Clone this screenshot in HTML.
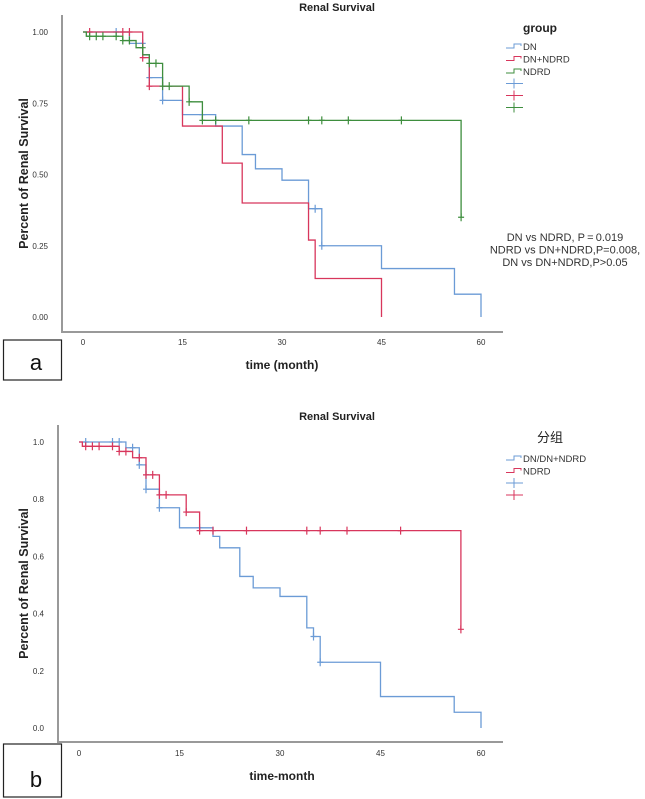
<!DOCTYPE html>
<html><head><meta charset="utf-8">
<style>
body{margin:0;background:#fff;width:645px;height:799px;overflow:hidden;font-family:"Liberation Sans","Noto Sans CJK SC",sans-serif}
svg{position:absolute;left:0;top:0}
</style></head>
<body>
<svg id="s" width="645" height="799"></svg>
<script>
// ---- data: panel a ----
const ticksX = [0, 15, 30, 45, 60];
const ticksYa = [0, 0.25, 0.5, 0.75, 1.0];
const ticksYaLabels = ["0.00", "0.25", "0.50", "0.75", "1.00"];
const dnTimes = [0, 7, 9, 10, 12, 15, 20, 24, 26, 30, 34, 36, 45, 56, 60];
const dnSurv  = [1.0, 0.96, 0.92, 0.84, 0.76, 0.71, 0.67, 0.57, 0.52, 0.48, 0.38, 0.25, 0.17, 0.08, 0];
const dnCensT = [5, 9, 10, 12, 18, 35, 36];
const dnCensS = [1.0, 0.96, 0.84, 0.76, 0.71, 0.38, 0.25];
const mixTimes = [0, 9, 10, 15, 21, 24, 34, 35, 45];
const mixSurv  = [1.0, 0.91, 0.81, 0.67, 0.54, 0.40, 0.27, 0.135, 0];
const mixCensT = [1, 6, 7, 9, 10];
const mixCensS = [1.0, 1.0, 1.0, 0.91, 0.81];
const ndTimes = [0, 0.5, 6, 8, 9, 10, 12, 16, 18, 57];
const ndSurv  = [1.0, 0.985, 0.97, 0.945, 0.92, 0.89, 0.81, 0.755, 0.69, 0.35];
const ndCensT = [1, 2, 3, 5, 6, 7, 9, 10, 11, 12, 13, 16, 18, 20, 25, 34, 36, 40, 48, 57];
const ndCensS = [0.985,0.985,0.985,0.985,0.97,0.97,0.945,0.89,0.89,0.81,0.81,0.755,0.69,0.69,0.69,0.69,0.69,0.69,0.69,0.35];
// ---- data: panel b ----
const ticksYb = [0, 0.2, 0.4, 0.6, 0.8, 1.0];
const ticksYbLabels = ["0.0", "0.2", "0.4", "0.6", "0.8", "1.0"];
const bBlueTimes = [0, 7, 9, 10, 12, 15, 20, 21, 24, 26, 30, 34, 35, 36, 45, 56, 60];
const bBlueSurv  = [1.0, 0.98, 0.92, 0.835, 0.77, 0.70, 0.67, 0.63, 0.53, 0.49, 0.46, 0.35, 0.32, 0.23, 0.11, 0.055, 0];
const bBlueCensT = [1, 5, 6, 8, 9, 10, 12, 18, 35, 36];
const bBlueCensS = [1.0, 1.0, 1.0, 0.98, 0.92, 0.835, 0.77, 0.70, 0.32, 0.23];
const bRedTimes = [0, 0.5, 6, 8, 10, 12, 16, 18, 57];
const bRedSurv  = [1.0, 0.985, 0.967, 0.945, 0.885, 0.815, 0.755, 0.69, 0.345];
const bRedCensT = [1, 2, 3, 5, 6, 7, 9, 10, 11, 12, 13, 16, 18, 20, 25, 34, 36, 40, 48, 57];
const bRedCensS = [0.985,0.985,0.985,0.985,0.967,0.967,0.945,0.885,0.885,0.815,0.815,0.755,0.69,0.69,0.69,0.69,0.69,0.69,0.69,0.345];

const NS = "http://www.w3.org/2000/svg";
const svg = document.getElementById('s');
function mk(tag, attrs, parent, text){
  const e = document.createElementNS(NS, tag);
  for (const k in attrs) e.setAttribute(k, attrs[k]);
  if (text !== undefined) e.textContent = text;
  (parent || svg).appendChild(e);
  return e;
}
const BLUE = "#6b9bd6", RED = "#d8365c", GREEN = "#3e8e3e";

function panel(P){
  const g = mk('g', {});
  
  
  const sx = t => P.x0 + (t / 60) * (P.x60 - P.x0);
  const sy = v => P.y0 + v * (P.y1 - P.y0);
  const ax = mk('path', {d:`M${P.fl} ${P.ft} V${P.fb} H${P.fr}`, stroke:"#999", "stroke-width":2, fill:"none"}, g);
  
  
  const tt = mk('text', {x:337, y:P.titleY, "text-anchor":"middle", "font-size":11, "font-weight":"bold", fill:"#222"}, g, "Renal Survival");
  
  
  ticksX.forEach(t => {
    const e = mk('text', {x:sx(t), y:P.tickXY, "text-anchor":"middle", "font-size":8, fill:"#333"}, g, String(t));
    
    
  });
  P.ty.forEach((v, i) => {
    const e = mk('text', {x:P.fl - 14, y:sy(v) + 3, "text-anchor":"end", "font-size":8, fill:"#333"}, g, P.tyl[i]);
    
    
  });
  const xt = mk('text', {x:282, y:P.xTitleY, "text-anchor":"middle", "font-size":12, "font-weight":"bold", fill:"#222"}, g, P.xTitle);
  
  
  const yc = (P.ft + P.fb) / 2;
  const yt = mk('text', {x:0, y:0, transform:`translate(28 ${yc}) rotate(-90)`, "text-anchor":"middle", "font-size":12.5, "font-weight":"bold", fill:"#222"}, g, "Percent of Renal Survival");
  
  
  P.series.forEach(s => {
    let d = `M${sx(s.t[0])} ${sy(s.s[0])}`;
    for (let i = 1; i < s.t.length; i++) d += ` H${sx(s.t[i])} V${sy(s.s[i])}`;
    const p = mk('path', {d, stroke:s.c, "stroke-width":1.3, fill:"none"}, g);
    
    
    s.ct.forEach((t, i) => {
      const x = sx(t), y = sy(s.cs[i]);
      const c = mk('path', {d:`M${x-3} ${y} H${x+3} M${x} ${y-4} V${y+4}`, stroke:s.c, "stroke-width":1.2}, g);
      
      
    });
  });
  const bx = mk('rect', {x:3.5, y:P.boxY, width:58, height:P.boxH, fill:"#fff", stroke:"#222", "stroke-width":1.2}, g);
  
  
  const bl = mk('text', {x:36, y:P.boxY + P.boxH - 10, "text-anchor":"middle", "font-size":22, fill:"#111"}, g, P.label);
  
  
  const lt = mk('text', {x:P.legTitleX, y:P.legTitleY, "text-anchor":"middle", "font-size":P.legTitleSize, "font-weight":P.legTitleW, fill:"#222"}, g, P.legTitle);
  
  
  let y = P.legY0;
  P.series.forEach(s => {
    const e = mk('path', {d:`M${P.legX} ${y+2} H${P.legX+8} V${y-2} H${P.legX+15} V${y}`, stroke:s.c, "stroke-width":1, fill:"none"}, g);
    
    
    const lbl = mk('text', {x:P.legX + 17, y:y + 4, "font-size":9.5, fill:"#333"}, g, s.label);
    
    
    y += 12.5;
  });
  P.series.forEach(s => {
    const x = P.legX + 8;
    const e = mk('path', {d:`M${P.legX} ${y} H${P.legX+17} M${x} ${y-5} V${y+5}`, stroke:s.c, "stroke-width":1}, g);
    
    
    y += 12;
  });
}

panel({name:'panel-a', fl:62, ft:15, fb:332, fr:503, x0:83, x60:481, y0:317, y1:32,
  titleY:11, tickXY:345, xTitleY:369, xTitle:"time (month)", ty:ticksYa, tyl:ticksYaLabels,
  boxY:340, boxH:40, label:"a", legX:506, legTitleX:540, legTitleY:32, legTitle:"group", legTitleSize:12, legTitleW:"bold", legY0:46,
  series:[
    {name:'dn', label:'DN', c:BLUE, t:dnTimes, s:dnSurv, ct:dnCensT, cs:dnCensS},
    {name:'dn-ndrd', label:'DN+NDRD', c:RED, t:mixTimes, s:mixSurv, ct:mixCensT, cs:mixCensS},
    {name:'ndrd', label:'NDRD', c:GREEN, t:ndTimes, s:ndSurv, ct:ndCensT, cs:ndCensS}
  ]});
panel({name:'panel-b', fl:58, ft:425, fb:742, fr:503, x0:79, x60:481, y0:728, y1:442,
  titleY:420, tickXY:756, xTitleY:780, xTitle:"time-month", ty:ticksYb, tyl:ticksYbLabels,
  boxY:744, boxH:53, label:"b", legX:506, legTitleX:550, legTitleY:442, legTitle:"分组", legTitleSize:13, legTitleW:"normal", legY0:458,
  series:[
    {name:'dn-combined', label:'DN/DN+NDRD', c:BLUE, t:bBlueTimes, s:bBlueSurv, ct:bBlueCensT, cs:bBlueCensS},
    {name:'ndrd', label:'NDRD', c:RED, t:bRedTimes, s:bRedSurv, ct:bRedCensT, cs:bRedCensS}
  ]});

["DN vs NDRD, P\u2009=\u20090.019", "NDRD vs DN+NDRD,P=0.008,", "DN vs DN+NDRD,P>0.05"].forEach((t, i) => {
  const e = mk('text', {x:565, y:241 + i * 12.5, "text-anchor":"middle", "font-size":11, fill:"#333"}, svg, t);
  
  
});
</script>
</body></html>
